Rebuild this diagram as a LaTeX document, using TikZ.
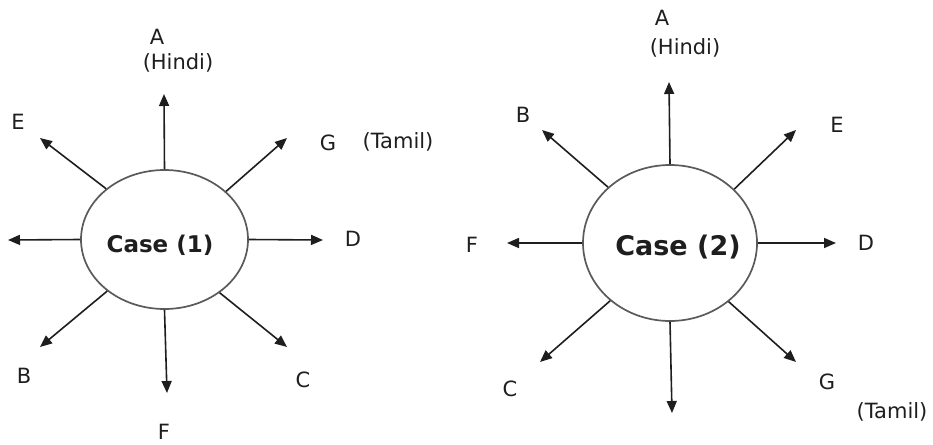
\documentclass[tikz,border=0pt]{standalone}
\usepackage{fontspec}
\setmainfont{DejaVu Sans}
\usetikzlibrary{arrows.meta,shapes.geometric}
\definecolor{ink}{HTML}{1E1E1E}
\definecolor{rim}{HTML}{5A5A5A}
\tikzset{
  hub/.style={ellipse,draw=rim,line width=1.7pt,fill=white,inner sep=0pt},
  ray/.style={draw=ink,line width=1.6pt,-{Triangle[length=12pt,width=10pt]}},
  lbl/.style={text=ink,font=\fontsize{21}{23}\selectfont,inner sep=0pt,anchor=center}
}
\begin{document}
\begin{tikzpicture}[x=1pt,y=-1pt]
\useasboundingbox (0,0) rectangle (933,444);
% ---- Case 1 ----
\node[hub,minimum width=167pt,minimum height=139pt] (c1) at (164.5,239.5) {};
\node[text=ink,font=\bfseries\fontsize{23}{25}\selectfont] (t1) at (160,245) {Case (1)};
\coordinate (u1) at (164,94);
\coordinate (e1) at (40,138);
\coordinate (g1) at (287,138);
\coordinate (l1) at (8,240);
\coordinate (d1) at (323,240);
\coordinate (b1) at (40,347);
\coordinate (f1) at (167,393);
\coordinate (cc1) at (287,347);
\draw[ray] (c1.north) -- (u1);
\draw[ray] (c1.139) -- (e1);
\draw[ray] (c1.38) -- (g1);
\draw[ray] (c1.west) -- (l1);
\draw[ray] (c1.east) -- (d1);
\draw[ray] (c1.222) -- (b1);
\draw[ray] (c1.south) -- (f1);
\draw[ray] (c1.316) -- (cc1);
\node[lbl] (A1) at (157,37) {A};
\node[lbl] (H1) at (178,63) {(Hindi)};
\node[lbl] (E1) at (18,122) {E};
\node[lbl] (G1) at (328,143) {G};
\node[lbl] (T1) at (398,142) {(Tamil)};
\node[lbl] (D1) at (353,239) {D};
\node[lbl] (B1) at (24,376) {B};
\node[lbl] (C1) at (303,380) {C};
\node[lbl] (F1) at (164,432) {F};
% ---- Case 2 ----
\node[hub,minimum width=174pt,minimum height=156pt] (c2) at (670,243) {};
\node[text=ink,font=\bfseries\fontsize{27}{29}\selectfont] (t2) at (678,247) {Case (2)};
\coordinate (u2) at (669,82);
\coordinate (b2) at (542,130);
\coordinate (e2) at (796,130);
\coordinate (f2) at (507,243);
\coordinate (d2) at (836,243);
\coordinate (cc2) at (540,362);
\coordinate (s2) at (672,413);
\coordinate (g2) at (796,362);
\draw[ray] (c2.north) -- (u2);
\draw[ray] (c2.138) -- (b2);
\draw[ray] (c2.40) -- (e2);
\draw[ray] (c2.west) -- (f2);
\draw[ray] (c2.east) -- (d2);
\draw[ray] (c2.224) -- (cc2);
\draw[ray] (c2.south) -- (s2);
\draw[ray] (c2.315) -- (g2);
\node[lbl] (A2) at (662,18) {A};
\node[lbl] (H2) at (685,48) {(Hindi)};
\node[lbl] (B2) at (523,115) {B};
\node[lbl] (E2) at (837,125) {E};
\node[lbl] (F2) at (472,245) {F};
\node[lbl] (D2) at (866,243) {D};
\node[lbl] (C2) at (510,389) {C};
\node[lbl] (G2) at (827,382) {G};
\node[lbl] (T2) at (892,412) {(Tamil)};
\end{tikzpicture}
\end{document}
